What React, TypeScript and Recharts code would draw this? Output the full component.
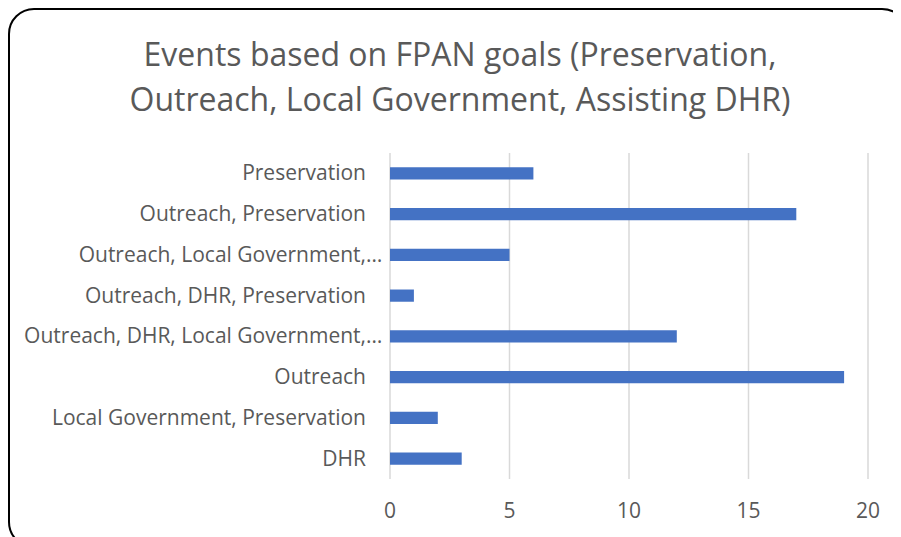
import * as React from "react";
import { BarChart, Bar, XAxis, YAxis, CartesianGrid } from "recharts";

// goal combinations, top to bottom as shown
const categories = [
  "Preservation",
  "Outreach, Preservation",
  "Outreach, Local Government, Preservation",
  "Outreach, DHR, Preservation",
  "Outreach, DHR, Local Government, Preservation",
  "Outreach",
  "Local Government, Preservation",
  "DHR",
];

// labels as the chart shows them (long ones cut off)
const tickLabels = [
  "Preservation",
  "Outreach, Preservation",
  "Outreach, Local Government,…",
  "Outreach, DHR, Preservation",
  "Outreach, DHR, Local Government,…",
  "Outreach",
  "Local Government, Preservation",
  "DHR",
];

const eventCounts = [6, 17, 5, 1, 12, 19, 2, 3];

const xTicks = [0, 5, 10, 15, 20];

const data = categories.map((name, i) => ({
  name,
  label: tickLabels[i],
  value: eventCounts[i],
}));

const FONT = "'Open Sans', Calibri, sans-serif";
const TEXT_COLOR = "#595959";

const CategoryTick = (props: any) => {
  const { x, y, index } = props;
  const label = tickLabels[index] || "";
  const cut = label.endsWith("…");
  const main = cut ? label.slice(0, -1) : label;
  return (
    <g fill={TEXT_COLOR} fontSize={21} fontFamily={FONT}>
      <text x={x} y={y} dy={7} textAnchor="end">
        {main}
      </text>
      {cut && (
        <text x={x} y={y} dy={7} textAnchor="start">
          …
        </text>
      )}
    </g>
  );
};

const ValueTick = (props: any) => {
  const { x, y, payload } = props;
  return (
    <text
      x={x}
      y={y}
      dy={31}
      textAnchor="middle"
      fill={TEXT_COLOR}
      fontSize={21}
      fontFamily={FONT}
    >
      {payload?.value}
    </text>
  );
};

export default function App() {
  return (
    <div
      style={{
        position: "relative",
        width: 893,
        height: 529,
        overflow: "hidden",
      }}
    >
      <div
        style={{
          position: "absolute",
          left: 0,
          top: 0,
          width: 900,
          height: 540,
          border: "2.5px solid #000",
          borderRadius: 26,
          boxSizing: "border-box",
          background: "#fff",
        }}
      />
      <div
        style={{
          position: "absolute",
          left: 0,
          top: 23,
          width: 904,
          textAlign: "center",
          fontFamily: FONT,
          fontSize: 32,
          lineHeight: "45px",
          color: TEXT_COLOR,
        }}
      >
        Events based on FPAN goals (Preservation,
        <br />
        Outreach, Local Government, Assisting DHR)
      </div>
      <div style={{ position: "absolute", left: 0, top: 0 }}>
        <BarChart
          width={893}
          height={529}
          data={data}
          layout="vertical"
          barCategoryGap="65%"
          margin={{ top: 145, right: 33, bottom: 8, left: 0 }}
        >
          <CartesianGrid
            horizontal={false}
            stroke="#d9d9d9"
            strokeWidth={1.5}
          />
          <XAxis
            type="number"
            domain={[0, 20]}
            ticks={xTicks}
            axisLine={false}
            tickLine={false}
            height={50}
            tick={<ValueTick />}
          />
          <YAxis
            type="category"
            dataKey="name"
            width={382}
            axisLine={false}
            tickLine={false}
            tickSize={0}
            tickMargin={24}
            interval={0}
            tick={<CategoryTick />}
          />
          <Bar dataKey="value" fill="#4472C4" isAnimationActive={false} />
        </BarChart>
      </div>
    </div>
  );
}
